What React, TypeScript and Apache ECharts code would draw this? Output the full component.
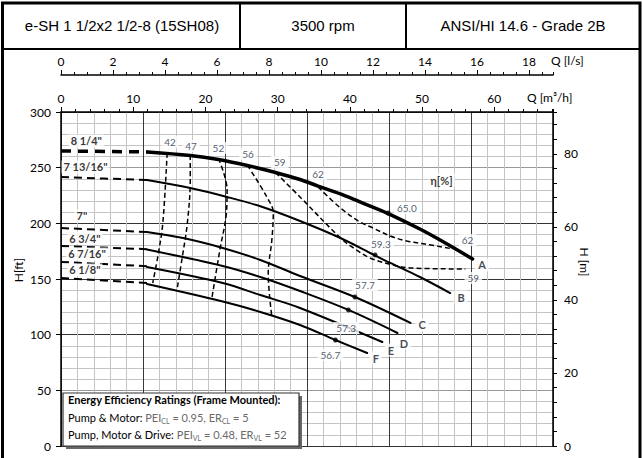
import React, { useEffect, useRef } from 'react';
import * as echarts from 'echarts';

const FONT = 'Lato, "Open Sans", sans-serif';
const HFONT = '"Liberation Sans", Arial, sans-serif';

// Axis ranges
const Q_MAX_M3H = 68.137; // = 300 US gpm
const Q_MAX_LS = Q_MAX_M3H / 3.6;
const Q_MAX_GPM = 300;
const H_MAX_FT = 300;
const H_MAX_M = 91.44;

// Header cells
const headerTexts = ['e-SH 1 1/2x2 1/2-8 (15SH08)', '3500 rpm', 'ANSI/HI 14.6 - Grade 2B'];

// Impeller curves [Q m3/h, H ft]
const curveA_dash = [[0, 265], [12, 264.1]];
const curveA = [[12, 264.1], [17.9, 260.9], [21.8, 257.3], [25.8, 251.9], [29.7, 245.7], [33.1, 239.4], [35.6, 233.5], [38.7, 226.4], [41.4, 219.2], [45.3, 208.8], [49.7, 194.9], [52.5, 185], [57, 168]];
const curveB_dash = [[0, 241.6], [11.9, 238.9]];
const curveB = [[11.9, 238.9], [17.9, 231.7], [23.0, 223.7], [27.6, 215.3], [33.1, 202.1], [38.7, 186.8], [43.2, 172.1], [45.6, 164.4], [49.7, 151.8], [53.9, 137.4]];
const curveC_dash = [[0, 195.8], [11.9, 192.2]];
const curveC = [[11.9, 192.2], [16.9, 186.8], [22.4, 177.9], [27.6, 167.1], [33.1, 152.7], [40.7, 133.8], [48.4, 110.5]];
const curveD_dash = [[0, 179.6], [11.9, 176.8]];
const curveD = [[11.9, 176.5], [22.4, 161.7], [27.6, 151.8], [33.1, 139.2], [39.8, 122.2], [46.6, 101.5]];
const curveE_dash = [[0, 165.3], [11.9, 161.5]];
const curveE = [[11.9, 160.8], [22.4, 146.4], [27.6, 135.6], [33.1, 124], [44.5, 93.4]];
const curveF_dash = [[0, 150.9], [11.9, 146.4]];
const curveF = [[11.9, 145.5], [22.4, 129.8], [27.6, 120.4], [33.1, 108.7], [38.0, 95.2], [42.4, 83.5]];

// Iso-efficiency curves [Q m3/h, H ft]
const eff42 = [[14.7, 263.2], [14.1, 200.3], [13.4, 169.8], [12.7, 146.4]];
const eff47 = [[17.9, 261.4], [17.9, 238.9], [17.5, 200.3], [16.8, 169.8], [16.1, 141.9]];
const eff52 = [[21.8, 258.4], [23.0, 229.9], [22.9, 209.0], [22.0, 176.1], [20.9, 133.0]];
const eff56 = [[25.8, 252.3], [28.5, 223.8], [29.4, 209.3], [29.2, 185], [28.7, 155.1], [29.2, 115.9]];
const eff59 = [[29.7, 245.7], [33.1, 223.7], [38.7, 186.8], [40.5, 177.9], [42.8, 168.9], [46.0, 162.6], [48.4, 159.9], [56.0, 159.0]];
const eff62 = [[35.6, 232.6], [38.7, 213.8], [41.4, 201.2], [43.2, 195.8], [45.6, 188.6], [47.9, 184.1], [50.4, 181.4], [54.3, 177.0]];

// Best-efficiency points
const bepPoints = [[45.3, 209.3], [43.5, 171.6], [40.7, 133.8], [39.8, 122.2], [38.0, 95.2]];

// Efficiency labels [text, Q, H]
const effLabels = [
  ['42', 15.1, 273.1], ['47', 18.0, 269.5], ['52', 21.8, 267.7], ['56', 25.9, 262.3],
  ['59', 30.3, 255.1], ['62', 35.6, 244.3], ['65.0', 47.9, 213.8], ['62', 56.3, 185.0],
  ['59.3', 44.3, 181.4], ['59', 57.1, 150.9], ['57.7', 42.1, 144.6], ['57.3', 39.5, 106.0],
  ['56.7', 37.3, 81.7],
];
// Curve letters
const curveLetters = [
  ['A', 58.3, 162.6], ['B', 55.4, 133.8], ['C', 50.0, 108.7],
  ['D', 47.5, 92.5], ['E', 45.7, 86.2], ['F', 43.6, 79.0],
];
// Impeller diameters
const diameterLabels = [
  ['8 1/4"', 3.5, 274], ['7 13/16"', 3.4, 250.6], ['7"', 2.9, 206.6],
  ['6 3/4"', 3.3, 186.8], ['6 7/16"', 3.6, 172.5], ['6 1/8"', 3.3, 158.1],
];
const etaLabel = ['η[%]', 52.7, 238.9];

function solid(data: number[][], width: number, smooth = 0.35) {
  return {
    type: 'line', data, smooth, symbol: 'none', silent: true,
    lineStyle: { color: '#000', width, type: 'solid', cap: 'round' },
    z: 5,
  };
}
function dashed(data: number[][], width: number, dash: number[], smooth: number | boolean = 0.35) {
  return {
    type: 'line', data, smooth, symbol: 'none', silent: true,
    lineStyle: { color: '#000', width, type: dash },
    z: 4,
  };
}
function labelSeries(items: any[], label: any) {
  return {
    type: 'scatter', silent: true, symbolSize: 1,
    itemStyle: { color: 'rgba(0,0,0,0)' },
    data: items.map(([t, q, h]) => ({ name: t, value: [q, h] })),
    label: { show: true, position: 'inside', formatter: '{b}', fontFamily: FONT, ...label },
    z: 20,
  };
}

export default function App() {
  const ref = useRef<HTMLDivElement>(null);
  useEffect(() => {
    if (!ref.current) return;
    const chart = echarts.init(ref.current, undefined, { renderer: 'svg' });
    const tickStyle = { color: '#000', width: 1 };
    const option: any = {
      animation: false,
      backgroundColor: '#fff',
      grid: { left: 61, right: 90, top: 112, bottom: 12, containLabel: false },
      xAxis: [
        {
          type: 'value', position: 'top', min: 0, max: Q_MAX_M3H, interval: 10,
          axisLine: { show: true, onZero: false, lineStyle: { color: '#000', width: 1.5 } },
          axisTick: { show: true, length: 5, lineStyle: tickStyle },
          axisLabel: { show: true, margin: 8, fontSize: 12, color: '#000', fontFamily: FONT, showMaxLabel: false },
          splitLine: { show: false },
        },
        {
          type: 'value', position: 'top', min: 0, max: Q_MAX_M3H, interval: 2,
          axisLine: { show: false, onZero: false },
          axisTick: { show: true, length: 3, lineStyle: tickStyle },
          axisLabel: { show: false }, splitLine: { show: false },
        },
        {
          type: 'value', position: 'top', offset: 37, min: 0, max: Q_MAX_LS, interval: 2,
          axisLine: { show: true, onZero: false, lineStyle: { color: '#000', width: 1.5 } },
          axisTick: { show: true, length: 5, lineStyle: tickStyle },
          axisLabel: { show: true, margin: 8, fontSize: 12, color: '#000', fontFamily: FONT, showMaxLabel: false },
          splitLine: { show: false },
        },
        {
          type: 'value', position: 'top', offset: 37, min: 0, max: Q_MAX_LS, interval: 0.5,
          axisLine: { show: false, onZero: false },
          axisTick: { show: true, length: 3, lineStyle: tickStyle },
          axisLabel: { show: false }, splitLine: { show: false },
        },
        {
          type: 'value', position: 'bottom', min: 0, max: Q_MAX_GPM, interval: 50,
          axisLine: { show: false, onZero: false }, axisTick: { show: false }, axisLabel: { show: false },
          splitLine: { show: true, lineStyle: { color: '#3a3a3a', width: 1 } },
          minorTick: { show: false, splitNumber: 5 },
          minorSplitLine: { show: true, lineStyle: { color: '#c4c4c4', width: 1 } },
        },
      ],
      yAxis: [
        {
          type: 'value', position: 'left', min: 0, max: H_MAX_FT, interval: 50,
          axisLine: { show: true, onZero: false, lineStyle: { color: '#000', width: 1.5 } },
          axisTick: { show: true, length: 5, lineStyle: tickStyle },
          axisLabel: { show: true, margin: 10, fontSize: 12, color: '#000', fontFamily: FONT },
          splitLine: { show: true, lineStyle: { color: ['#333', '#999', '#333', '#333', '#333', '#999', '#333'], width: 1 } },
          minorTick: { show: false, splitNumber: 5 },
          minorSplitLine: { show: true, lineStyle: { color: '#c4c4c4', width: 1 } },
        },
        {
          type: 'value', position: 'right', min: 0, max: H_MAX_M, interval: 20,
          axisLine: { show: true, onZero: false, lineStyle: { color: '#000', width: 1.5 } },
          axisTick: { show: true, length: 4, lineStyle: tickStyle },
          axisLabel: { show: true, margin: 11, fontSize: 12, color: '#000', fontFamily: FONT, showMaxLabel: false },
          splitLine: { show: false },
        },
        {
          type: 'value', position: 'right', min: 0, max: H_MAX_M, interval: 4,
          axisLine: { show: false, onZero: false },
          axisTick: { show: true, length: 4, lineStyle: tickStyle },
          axisLabel: { show: false }, splitLine: { show: false },
        },
      ],
      series: [
        dashed(curveA_dash, 3.5, [10, 7], false),
        solid(curveA, 3.5),
        dashed(curveB_dash, 2, [8, 5]), solid(curveB, 2),
        dashed(curveC_dash, 2, [8, 5]), solid(curveC, 2),
        dashed(curveD_dash, 2, [8, 5]), solid(curveD, 2),
        dashed(curveE_dash, 2, [8, 5]), solid(curveE, 2),
        dashed(curveF_dash, 2, [8, 5]), solid(curveF, 2),
        dashed(eff42, 1.5, [5, 3]), dashed(eff47, 1.5, [5, 3]), dashed(eff52, 1.5, [5, 3]),
        dashed(eff56, 1.5, [5, 3]), dashed(eff59, 1.5, [5, 3]), dashed(eff62, 1.5, [5, 3]),
        {
          type: 'scatter', silent: true, data: bepPoints, symbolSize: 5,
          itemStyle: { color: '#000' }, z: 6,
        },
        labelSeries(effLabels, { color: '#26314a', fontSize: 10, backgroundColor: '#fff', padding: [1, 3] }),
        labelSeries(curveLetters, { color: '#141a28', fontSize: 11, fontWeight: 'bold', backgroundColor: '#fff', padding: [1, 3] }),
        labelSeries(diameterLabels, { color: '#000', fontSize: 11, fontWeight: 'bold', backgroundColor: '#fff', padding: [1, 2] }),
        labelSeries([etaLabel], { color: '#000', fontSize: 11, fontWeight: 'bold', backgroundColor: '#fff', padding: [1, 2] }),
      ],
      graphic: [
        // outer frame & header
        { type: 'rect', z: 100, shape: { x: 2.5, y: 3, width: 637.5, height: 470 }, style: { fill: 'none', stroke: '#000', lineWidth: 3 } },
        { type: 'line', z: 100, shape: { x1: 2, y1: 49, x2: 640, y2: 49 }, style: { stroke: '#000', lineWidth: 2 } },
        { type: 'line', z: 100, shape: { x1: 240, y1: 3, x2: 240, y2: 49 }, style: { stroke: '#000', lineWidth: 2 } },
        { type: 'line', z: 100, shape: { x1: 406, y1: 3, x2: 406, y2: 49 }, style: { stroke: '#000', lineWidth: 2 } },
        { type: 'text', z: 100, x: 122, y: 25, style: { text: headerTexts[0], font: `15px ${HFONT}`, fill: '#000', textAlign: 'center', textVerticalAlign: 'middle' } },
        { type: 'text', z: 100, x: 323, y: 25, style: { text: headerTexts[1], font: `15px ${HFONT}`, fill: '#000', textAlign: 'center', textVerticalAlign: 'middle' } },
        { type: 'text', z: 100, x: 523, y: 25, style: { text: headerTexts[2], font: `15px ${HFONT}`, fill: '#000', textAlign: 'center', textVerticalAlign: 'middle' } },
        // axis names
        { type: 'text', z: 100, x: 551, y: 60, style: { text: 'Q [l/s]', font: `12px ${FONT}`, fill: '#000', textAlign: 'left', textVerticalAlign: 'middle' } },
        { type: 'text', z: 100, x: 527, y: 97, style: { text: 'Q [m³/h]', font: `12px ${FONT}`, fill: '#000', textAlign: 'left', textVerticalAlign: 'middle' } },
        { type: 'text', z: 100, x: 18, y: 270, rotation: Math.PI / 2, style: { text: 'H[ft]', font: `12px ${FONT}`, fill: '#000', textAlign: 'center', textVerticalAlign: 'middle' } },
        { type: 'text', z: 100, x: 584, y: 262, rotation: -Math.PI / 2, style: { text: 'H [m]', font: `12px ${FONT}`, fill: '#000', textAlign: 'center', textVerticalAlign: 'middle' } },
        // energy efficiency box
        { type: 'rect', z: 100, shape: { x: 66, y: 396, width: 236, height: 53 }, style: { fill: '#666' } },
        { type: 'rect', z: 101, shape: { x: 63, y: 393, width: 236, height: 53 }, style: { fill: '#fff', stroke: '#333', lineWidth: 1.2 } },
        {
          type: 'text', z: 102, x: 68, y: 399,
          style: { text: 'Energy Efficiency Ratings (Frame Mounted):', font: `bold 11px ${FONT}`, fill: '#000', textAlign: 'left', textVerticalAlign: 'middle' },
        },
        {
          type: 'text', z: 102, x: 68, y: 417,
          style: {
            text: '{b|Pump & Motor: }{g|PEI}{s|CL}{g| = 0.95, ER}{s|CL}{g| = 5}',
            textAlign: 'left', textVerticalAlign: 'middle',
            rich: {
              b: { fontSize: 11, fontFamily: FONT, fill: '#000', lineHeight: 14 },
              g: { fontSize: 11, fontFamily: FONT, fill: '#6a6a6a', lineHeight: 14 },
              s: { fontSize: 7, fontFamily: FONT, fill: '#6a6a6a', lineHeight: 8, verticalAlign: 'bottom' },
            },
          },
        },
        {
          type: 'text', z: 102, x: 68, y: 434,
          style: {
            text: '{b|Pump, Motor & Drive: }{g|PEI}{s|VL}{g| = 0.48, ER}{s|VL}{g| = 52}',
            textAlign: 'left', textVerticalAlign: 'middle',
            rich: {
              b: { fontSize: 11, fontFamily: FONT, fill: '#000', lineHeight: 14 },
              g: { fontSize: 11, fontFamily: FONT, fill: '#6a6a6a', lineHeight: 14 },
              s: { fontSize: 7, fontFamily: FONT, fill: '#6a6a6a', lineHeight: 8, verticalAlign: 'bottom' },
            },
          },
        },
      ],
    };
    chart.setOption(option);
    return () => chart.dispose();
  }, []);
  return <div ref={ref} style={{ position: 'absolute', left: 0, top: 0, width: 643, height: 458 }} />;
}
